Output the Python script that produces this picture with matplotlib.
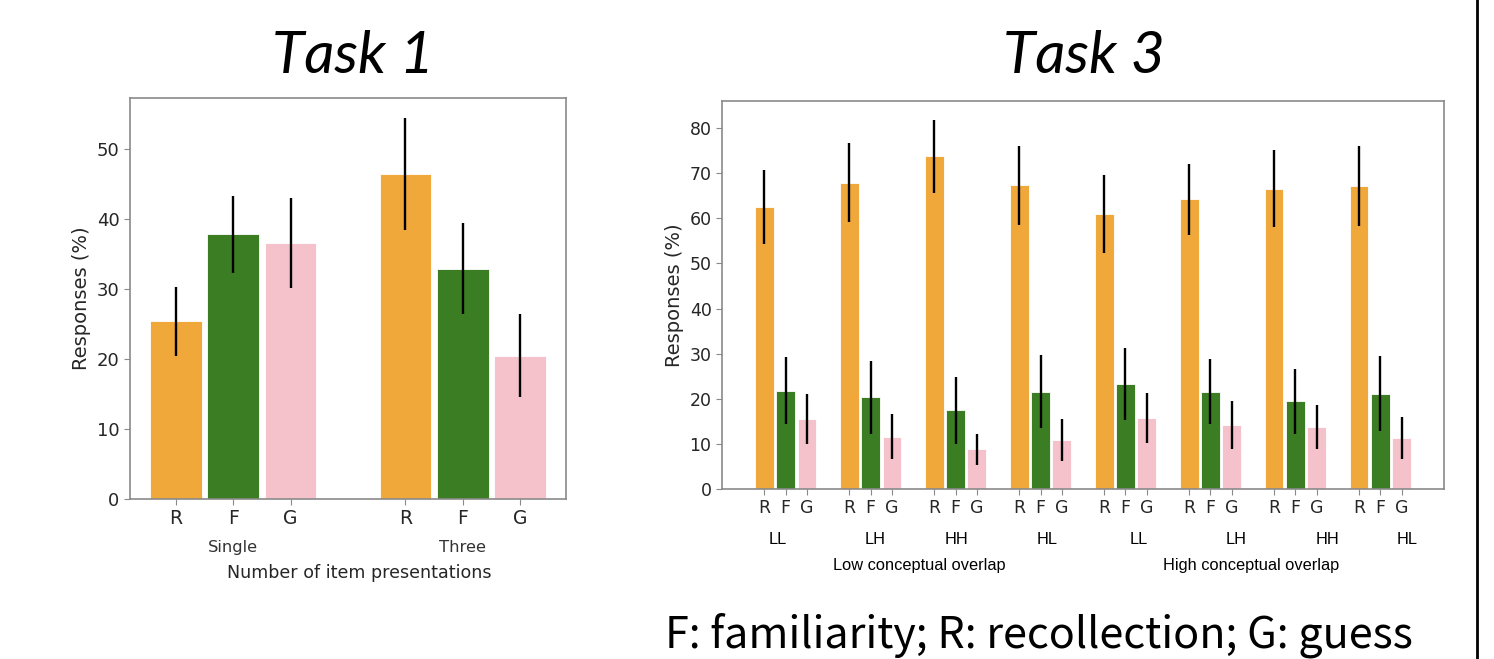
import matplotlib
matplotlib.use("Agg")
import matplotlib.pyplot as plt
from matplotlib.lines import Line2D
import numpy as np

# colours for recollection / familiarity / guess
colors = ["#F0A83B", "#3A7D22", "#F5C2CB"]
resp = ["R", "F", "G"]

# Task 1
t1_groups = ["Single", "Three"]
t1_vals = [[25.4, 37.8, 36.6], [46.5, 32.9, 20.5]]
t1_err = [[4.9, 5.5, 6.4], [8.0, 6.5, 5.9]]

# Task 3
t3_groups = ["LL", "LH", "HH", "HL", "LL", "LH", "HH", "HL"]
t3_vals = [[62.6, 21.8, 15.5], [67.9, 20.3, 11.6], [73.7, 17.4, 8.8], [67.3, 21.6, 10.9],
           [61.0, 23.3, 15.7], [64.2, 21.6, 14.1], [66.6, 19.4, 13.8], [67.2, 21.1, 11.3]]
t3_err = [[8.2, 7.5, 5.5], [8.8, 8.0, 5.0], [8.1, 7.5, 3.4], [8.8, 8.1, 4.6],
          [8.6, 8.0, 5.6], [7.9, 7.2, 5.3], [8.5, 7.3, 4.9], [8.8, 8.3, 4.6]]
overlap = ["Low conceptual overlap", "High conceptual overlap"]

fig = plt.figure(figsize=(14.94, 6.59), dpi=100)
tick_col = "#262626"
spine_col = "#8a8a8a"


def style(ax):
    for s in ax.spines.values():
        s.set_color(spine_col)
        s.set_linewidth(1.2)
    ax.tick_params(colors=spine_col, labelcolor=tick_col, length=4)


def draw(ax, vals, err, step, width):
    vals = np.array(vals)
    err = np.array(err)
    for j in range(3):
        x = np.arange(len(vals)) * step + j
        ax.bar(x, vals[:, j], width=width, color=colors[j], edgecolor="white", linewidth=0.6)
        ax.errorbar(x, vals[:, j], yerr=err[:, j], fmt="none", ecolor="black", elinewidth=1.7, capsize=0)
    xs = [i * step + j for i in range(len(vals)) for j in range(3)]
    ax.set_xticks(xs)
    ax.set_xticklabels(resp * len(vals))


# ---- Task 1
ax1 = fig.add_axes([130 / 1494, 1 - 499 / 659, 436 / 1494, 401 / 659])
draw(ax1, t1_vals, t1_err, 4, 0.9)
ax1.set_xlim(-0.8, 6.8)
ax1.set_ylim(0, 57.3)
ax1.set_yticks([0, 10, 20, 30, 40, 50])
style(ax1)
ax1.tick_params(axis="x", labelsize=13.5, pad=3)
ax1.tick_params(axis="y", labelsize=13)
ax1.set_ylabel("Responses (%)", fontsize=14, color=tick_col, labelpad=4)
for i, g in enumerate(t1_groups):
    ax1.text(i * 4 + 1, -0.12, g, transform=ax1.get_xaxis_transform(),
             ha="center", va="center", fontsize=11.8, color="#333333")
ax1.text(3.2, -0.185, "Number of item presentations", transform=ax1.get_xaxis_transform(),
         ha="center", va="center", fontsize=12.6, color=tick_col)

# ---- Task 3
ax2 = fig.add_axes([722 / 1494, 1 - 489 / 659, 722 / 1494, 388 / 659])
draw(ax2, t3_vals, t3_err, 4, 0.88)
ax2.set_xlim(-2, 32)
ax2.set_ylim(0, 86)
ax2.set_yticks(range(0, 81, 10))
style(ax2)
ax2.tick_params(axis="x", labelsize=12.5, pad=3)
ax2.tick_params(axis="y", labelsize=12.5)
ax2.set_ylabel("Responses (%)", fontsize=14, color=tick_col, labelpad=4)
label_shift = [-0.36, 0.2, 0.06, 0.3, 0.63, 1.2, 1.5, 1.25]
for i, g in enumerate(t3_groups):
    ax2.text(i * 4 + 1 + label_shift[i], -0.131, g, transform=ax2.get_xaxis_transform(),
             ha="center", va="center", fontsize=11.8, family="Liberation Sans", color="black")
for k, t in enumerate(overlap):
    ax2.text(7.3 + k * 15.6, -0.196, t, transform=ax2.get_xaxis_transform(),
             ha="center", va="center", fontsize=11.8, family="Liberation Sans", color="black")

# slide titles and caption
fig.text(353 / 1494, 1 - 73 / 659, "Task 1", ha="center", va="baseline",
         fontsize=42.5, style="italic", family=["Lato", "DejaVu Sans"])
fig.text(1084 / 1494, 1 - 73 / 659, "Task 3", ha="center", va="baseline",
         fontsize=42.5, style="italic", family=["Lato", "DejaVu Sans"])
fig.text(1039 / 1494, 1 - 647 / 659, "F: familiarity; R: recollection; G: guess",
         ha="center", va="baseline", fontsize=31, family=["Noto Sans CJK SC", "DejaVu Sans"])

# slide border on the right
fig.add_artist(Line2D([1477 / 1494] * 2, [0, 1], transform=fig.transFigure, color="black", linewidth=2))

fig.savefig("out.png", dpi=100)
